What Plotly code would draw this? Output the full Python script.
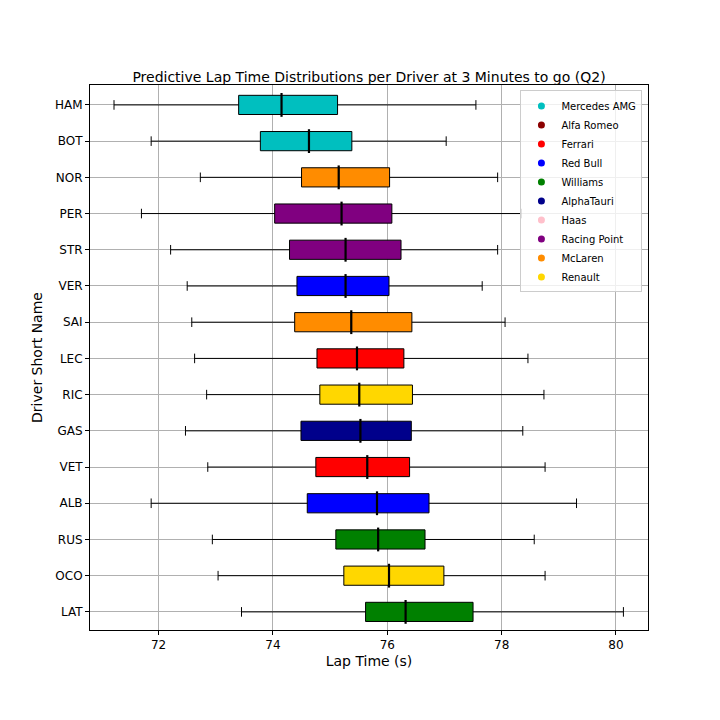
import plotly.graph_objects as go

# datos
pilotos = ['HAM', 'BOT', 'NOR', 'PER', 'STR', 'VER', 'SAI', 'LEC',
           'RIC', 'GAS', 'VET', 'ALB', 'RUS', 'OCO', 'LAT']
equipo_piloto = ['Mercedes AMG', 'Mercedes AMG', 'McLaren', 'Racing Point', 'Racing Point',
                 'Red Bull', 'McLaren', 'Ferrari', 'Renault', 'AlphaTauri', 'Ferrari',
                 'Red Bull', 'Williams', 'Renault', 'Williams']
bigote_min = [71.22, 71.87, 72.73, 71.70, 72.21, 72.50, 72.58, 72.63,
              72.84, 72.47, 72.86, 71.87, 72.94, 73.04, 73.45]
cuartil_1 = [73.40, 73.78, 74.50, 74.03, 74.29, 74.42, 74.38, 74.77,
             74.82, 74.49, 74.75, 74.60, 75.10, 75.24, 75.62]
mediana = [74.15, 74.63, 75.15, 75.20, 75.27, 75.27, 75.37, 75.47,
           75.51, 75.53, 75.65, 75.82, 75.84, 76.03, 76.32]
cuartil_3 = [75.13, 75.38, 76.04, 76.08, 76.24, 76.03, 76.43, 76.29,
             76.44, 76.42, 76.39, 76.73, 76.66, 76.99, 77.50]
bigote_max = [77.55, 77.03, 77.93, 78.34, 77.93, 77.66, 78.06, 78.46,
              78.74, 78.37, 78.76, 79.31, 78.57, 78.76, 80.13]

equipos = ['Mercedes AMG', 'Alfa Romeo', 'Ferrari', 'Red Bull', 'Williams',
           'AlphaTauri', 'Haas', 'Racing Point', 'McLaren', 'Renault']
colores_equipos = ['#00BFBF', '#8B0000', '#FF0000', '#0000FF', '#008000',
                   '#00008B', '#FFC0CB', '#800080', '#FF8C00', '#FFD700']
color_de = dict(zip(equipos, colores_equipos))

fuente = 'DejaVu Sans'

fig = go.Figure()

for i, piloto in enumerate(pilotos):
    fig.add_trace(go.Box(
        y=[piloto], orientation='h',
        q1=[cuartil_1[i]], median=[mediana[i]], q3=[cuartil_3[i]],
        lowerfence=[bigote_min[i]], upperfence=[bigote_max[i]],
        fillcolor=color_de[equipo_piloto[i]],
        line=dict(color='black', width=1),
        whiskerwidth=0.5, width=0.53,
        showlegend=False, hoverinfo='x+y'
    ))

# linea de mediana mas gruesa, como en matplotlib
fig.add_trace(go.Scatter(
    x=mediana, y=pilotos, mode='markers',
    marker=dict(symbol='line-ns', size=17, line=dict(width=2.2, color='black')),
    showlegend=False, hoverinfo='skip'
))

# leyenda con todos los equipos
for equipo in equipos:
    fig.add_trace(go.Scatter(
        x=[None], y=[None], mode='markers',
        marker=dict(size=7, color=color_de[equipo]),
        name=equipo
    ))

fig.update_layout(
    width=720, height=720,
    paper_bgcolor='white', plot_bgcolor='white',
    font=dict(family=fuente, color='black', size=12),
    margin=dict(l=82, r=80, t=77, b=98, autoexpand=False),
    title=dict(
        text='Predictive Lap Time Distributions per Driver at 3 Minutes to go (Q2)',
        x=0.5, xanchor='center', xref='paper',
        y=1, yref='paper', yanchor='bottom', pad=dict(b=3),
        font=dict(size=14, family=fuente, color='black')
    ),
    legend=dict(
        x=0.99, y=0.99, xanchor='right', yanchor='top',
        bgcolor='rgba(255,255,255,0.8)', bordercolor='#cccccc', borderwidth=1,
        font=dict(size=10, family=fuente), tracegroupgap=0
    ),
    boxmode='overlay',
    xaxis=dict(
        title=dict(text='Lap Time (s)', font=dict(size=14), standoff=4),
        range=[70.80, 80.56], tickvals=[72, 74, 76, 78, 80],
        showgrid=True, gridcolor='#b0b0b0', gridwidth=0.8,
        showline=True, linecolor='black', linewidth=1, mirror=True,
        ticks='outside', ticklen=4, tickcolor='black', zeroline=False
    ),
    yaxis=dict(
        title=dict(text='Driver Short Name', font=dict(size=14), standoff=9),
        type='category', categoryorder='array', categoryarray=pilotos,
        range=[14.5, -0.55],
        showgrid=True, gridcolor='#b0b0b0', gridwidth=0.8,
        showline=True, linecolor='black', linewidth=1, mirror=True,
        ticks='outside', ticklen=4, tickcolor='black'
    )
)

fig.write_html("out.html")
